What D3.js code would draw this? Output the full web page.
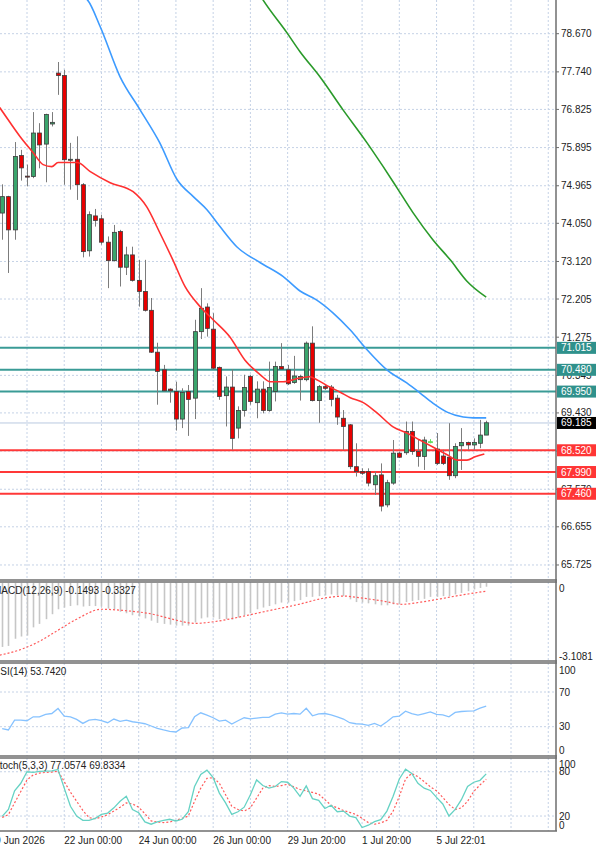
<!DOCTYPE html>
<html>
<head>
<meta charset="utf-8">
<script src="https://cdn.jsdelivr.net/npm/d3@7"></script>
<style>
body { margin: 0; background: #fff; }
svg { display: block; font-family: "Liberation Sans", Arial, sans-serif; font-size: 10px; }
</style>
</head>
<body>
<div id="chart"></div>
<script>
// 4H candles (open / high / low / close)
var opens  = [74.30,74.70,73.89,75.70,75.20,75.19,76.25,75.98,76.47,77.71,77.65,75.60,75.61,74.99,73.38,74.23,74.16,73.59,73.14,73.85,
              72.98,73.28,72.66,72.39,71.93,70.91,70.48,70.01,69.95,69.28,69.95,69.79,71.41,72.01,71.47,70.54,69.85,70.06,69.06,69.49,
              70.32,69.68,70.01,69.49,69.95,70.56,70.48,70.17,70.24,70.24,71.13,69.73,70.07,70.06,69.79,69.30,69.14,68.12,68.00,68.00,
              67.68,67.92,67.19,67.72,68.45,68.46,68.98,68.49,68.37,68.73,68.55,68.38,68.35,67.90,68.63,68.71,68.65,68.69,68.89];
var highs  = [75.00,74.72,76.03,75.84,75.48,76.76,76.49,76.72,76.76,77.98,77.79,76.01,76.17,75.03,74.34,74.40,74.26,73.73,74.01,73.89,
              73.48,73.48,73.16,73.16,72.23,71.14,70.60,70.03,70.19,70.03,70.11,71.70,72.47,72.10,71.86,70.56,70.32,70.50,69.59,70.36,
              70.36,70.20,70.20,70.68,70.68,71.13,70.60,70.82,70.36,71.17,71.54,70.11,70.11,70.11,69.87,69.50,69.16,68.69,68.08,68.08,
              68.00,68.20,67.80,68.77,68.49,69.22,69.22,68.77,68.85,68.79,68.94,68.53,69.18,68.69,69.06,68.73,68.81,69.26,69.24];
var lows   = [73.65,72.84,73.65,75.09,74.95,75.15,75.39,75.05,76.41,77.18,74.99,74.87,74.62,73.22,73.24,73.97,73.53,72.47,73.12,72.51,
              72.79,72.63,72.02,71.90,70.89,69.63,69.95,69.68,69.00,69.06,68.87,69.28,71.23,71.29,70.48,69.75,69.10,68.53,68.81,69.34,
              69.63,69.30,69.42,69.46,69.71,70.48,70.11,70.14,69.73,70.20,69.71,69.19,69.99,69.59,69.14,68.53,68.06,67.88,67.92,67.64,
              67.43,67.03,67.13,67.68,68.33,68.41,68.41,68.12,68.04,68.69,68.16,68.16,67.80,67.84,68.04,68.53,68.53,68.57,68.89];
var closes = [74.70,73.89,75.68,75.40,75.19,76.25,75.96,76.70,76.51,77.65,75.60,75.61,74.99,73.36,74.26,74.12,73.59,73.14,73.83,72.98,
              73.28,72.66,72.39,71.93,70.91,70.44,69.97,69.97,69.28,69.93,69.76,71.41,71.98,71.49,70.52,69.83,70.06,68.81,69.49,70.05,
              69.71,70.01,69.49,70.05,70.56,70.50,70.14,70.33,70.32,71.13,69.73,70.07,70.03,69.76,69.33,69.10,68.12,68.00,67.96,67.72,
              67.90,67.16,67.73,68.45,68.35,68.98,68.49,68.37,68.77,68.73,68.20,68.20,67.90,68.61,68.71,68.65,68.71,68.89,69.19];

// moving averages, [bar, price] readings
var maRed = [[-0.4,76.87],[1.3,76.50],[2.9,76.16],[5.0,75.77],[6.6,75.48],[8.0,75.43],[9.0,75.53],[10.5,75.53],[12.1,75.53],
             [14.2,75.31],[17.4,75.04],[21.1,74.82],[23.3,74.45],[25.4,73.82],[27.5,73.16],[29.5,72.50],[31.9,72.02],[34.0,71.70],
             [36.7,71.28],[39.1,70.72],[41.6,70.36],[43.2,70.19],[45.3,70.19],[48.0,70.28],[49.6,70.31],[50.7,70.24],[52.8,70.06],
             [54.4,69.94],[56.1,69.80],[58.2,69.68],[60.4,69.43],[63.0,69.09],[65.2,68.94],[67.3,68.77],[69.4,68.60],[71.7,68.41],
             [73.3,68.28],[74.9,68.28],[76.2,68.36],[77.7,68.43]];
var maBlue = [[13.3,79.55],[13.7,79.50],[15.8,78.84],[19.0,77.62],[22.2,76.82],[25.4,76.01],[28.2,75.11],[30.8,74.70],[33.0,74.38],
              [35.1,73.97],[37.8,73.48],[41.6,73.09],[45.3,72.75],[48.0,72.40],[50.7,72.18],[53.3,71.87],[56.1,71.45],[58.8,70.97],
              [62.0,70.48],[65.2,70.16],[67.3,69.92],[69.4,69.67],[71.7,69.45],[74.3,69.33],[75.9,69.31],[78.0,69.31]];
var maGreen = [[41.5,79.62],[42.0,79.50],[45.9,78.69],[48.0,78.23],[51.2,77.62],[54.9,76.82],[58.8,76.01],[61.4,75.43],
               [63.6,74.92],[66.2,74.31],[69.4,73.65],[72.2,73.16],[74.9,72.64],[78.0,72.25]];

// price axis
var priceTicks = ["78.670","77.740","76.825","75.895","74.965","74.050","73.120","72.205","71.275","70.345","69.430","68.500","67.570","66.655","65.725"];
var levelsTeal = [71.015, 70.480, 69.950];
var levelsRed = [68.520, 67.990, 67.460];
var lastPrice = 69.185;

// MACD(12,26,9)
var macdHist = [-2.58,-2.54,-2.25,-2.16,-2.12,-1.79,-1.65,-1.46,-1.26,-1.06,-0.99,-0.93,-0.90,-0.95,-0.93,-0.93,-0.95,-1.03,-1.06,-1.16,
                -1.22,-1.30,-1.35,-1.43,-1.52,-1.61,-1.65,-1.68,-1.72,-1.72,-1.72,-1.59,-1.43,-1.39,-1.39,-1.46,-1.46,-1.48,-1.39,-1.30,
                -1.22,-1.06,-0.99,-0.93,-0.86,-0.79,-0.79,-0.73,-0.69,-0.56,-0.56,-0.53,-0.50,-0.46,-0.50,-0.53,-0.66,-0.77,-0.79,-0.82,
                -0.86,-0.90,-0.90,-0.86,-0.86,-0.77,-0.73,-0.69,-0.64,-0.56,-0.56,-0.53,-0.53,-0.46,-0.40,-0.33,-0.26,-0.20,-0.15];
var macdSignal = [[-0.4,-2.91],[2.7,-2.71],[5.8,-2.38],[8.9,-1.92],[12.0,-1.46],[16.0,-1.06],[20.0,-1.12],[24.3,-1.26],[27.4,-1.46],
                  [31.1,-1.63],[34.2,-1.56],[37.9,-1.39],[42.9,-1.12],[47.8,-0.86],[52.1,-0.60],[55.2,-0.53],[57.7,-0.60],
                  [61.4,-0.73],[64.5,-0.86],[67.5,-0.77],[70.6,-0.64],[73.7,-0.50],[78.0,-0.33]];

// RSI(14)
var rsiValues = [27.7,26.2,37.6,37.6,36.9,41.4,41.4,44.1,45.2,51.0,42.2,41.4,38.4,33.8,37.6,38.4,36.9,34.6,38.8,36.1,
                 37.6,35.7,34.6,33.4,30.8,28.1,26.2,24.7,23.9,28.5,28.9,41.4,46.0,43.3,40.3,36.5,37.6,33.0,36.9,40.3,
                 39.1,39.9,40.7,40.7,44.5,46.0,44.5,45.2,44.5,51.3,42.6,44.9,45.2,43.7,41.4,38.8,34.6,33.4,33.0,31.5,
                 33.8,30.8,35.7,41.4,42.2,47.9,45.2,43.3,45.2,47.1,44.1,43.7,41.4,46.4,47.5,47.9,48.3,51.5,53.7];

// Stochastic(5,3,3)
var stochMain = [19.6,28.9,54.2,64.4,80.0,79.1,80.4,80.9,81.3,83.1,57.8,33.3,20.0,14.2,14.2,16.9,22.2,24.0,31.1,40.0,
                 46.7,28.9,24.4,12.0,8.9,12.0,14.2,15.6,13.3,15.6,25.8,60.0,76.4,82.2,72.0,51.1,37.8,22.2,25.8,32.0,
                 48.9,68.9,61.3,57.8,60.0,66.7,65.8,57.8,46.7,60.9,43.6,41.3,30.2,34.7,25.8,26.7,20.0,17.8,4.4,7.6,
                 12.4,15.1,26.7,46.7,70.2,83.6,77.8,64.4,57.8,54.7,45.3,36.4,20.0,28.9,42.2,60.0,65.8,68.4,77.1];
var stochSignal = [18.2,21.8,37.8,53.3,68.9,75.6,78.2,79.1,79.6,80.9,66.7,52.4,40.0,27.6,17.8,16.4,18.7,21.8,26.7,32.0,
                   37.8,36.4,32.0,23.1,13.3,12.0,11.1,12.0,14.2,16.9,20.0,40.0,57.8,71.1,72.0,64.4,48.9,33.3,28.9,26.7,
                   31.1,44.4,57.8,61.3,60.0,61.3,63.1,59.6,56.0,54.2,52.0,49.8,42.2,34.7,31.1,27.6,24.9,22.2,16.9,11.1,
                   8.9,10.7,14.2,26.7,46.7,70.2,77.8,73.3,66.7,59.6,54.2,45.3,35.6,28.9,31.1,40.0,53.3,62.2,69.8];

// time axis
var dateLabels = ["19 Jun 2026","22 Jun 00:00","24 Jun 00:00","26 Jun 00:00","29 Jun 20:00","1 Jul 20:00","5 Jul 22:01"];
var dateBars = [-2, 10, 22, 34, 46, 58, 70];

// layout
var width = 600, height = 849;
var axisX = 556;
var panes = {
	main:  {top: 0,   bottom: 580},
	macd:  {top: 582, bottom: 661},
	rsi:   {top: 663, bottom: 756},
	stoch: {top: 758, bottom: 831}
};
var gridColor = "#c5d2e6";
var frameColor = "#6e6e6e";

var svg = d3.select("#chart").append("svg")
	.attr("width", width)
	.attr("height", height);

svg.append("rect").attr("width", width).attr("height", height).attr("fill", "#fff");

var x = d3.scaleLinear().domain([0, 78]).range([2.18, 486.2]);
var yMain = d3.scaleLinear().domain([65.359, 79.491]).range([580, 0]);
var yMacd = d3.scaleLinear().domain([-3.1081, 0]).range([660, 583]);
var yRsi = d3.scaleLinear().domain([0, 100]).range([752.7, 666]);
var yStoch = d3.scaleLinear().domain([0, 100]).range([830.8, 757]);

// clip for each pane
Object.keys(panes).forEach(function(k) {
	svg.append("clipPath").attr("id", "clip-" + k)
		.append("rect")
		.attr("x", 0).attr("y", panes[k].top)
		.attr("width", axisX).attr("height", panes[k].bottom - panes[k].top);
});

// vertical grid every 6 bars
var gridBars = d3.range(4, 89, 6);
Object.keys(panes).forEach(function(k) {
	svg.append("g").selectAll("line")
		.data(gridBars)
		.enter().append("line")
		.attr("x1", function(d) { return x(d); })
		.attr("x2", function(d) { return x(d); })
		.attr("y1", panes[k].top)
		.attr("y2", panes[k].bottom)
		.attr("stroke", gridColor)
		.attr("stroke-dasharray", "2,2");
});

// horizontal grid on the price pane
svg.append("g").selectAll("line")
	.data(priceTicks)
	.enter().append("line")
	.attr("x1", 0).attr("x2", axisX)
	.attr("y1", function(d) { return yMain(+d); })
	.attr("y2", function(d) { return yMain(+d); })
	.attr("stroke", gridColor)
	.attr("stroke-dasharray", "2,2");

// indicator guide levels
[[yRsi, 70], [yRsi, 30], [yStoch, 80], [yStoch, 20]].forEach(function(d) {
	svg.append("line")
		.attr("x1", 0).attr("x2", axisX)
		.attr("y1", d[0](d[1])).attr("y2", d[0](d[1]))
		.attr("stroke", gridColor)
		.attr("stroke-dasharray", "2,2");
});

var gMain = svg.append("g").attr("clip-path", "url(#clip-main)");

// last price line
gMain.append("line")
	.attr("x1", 0).attr("x2", axisX)
	.attr("y1", yMain(lastPrice)).attr("y2", yMain(lastPrice))
	.attr("stroke", "#b9c9e0");

// support / resistance levels
gMain.selectAll(".lvl-teal")
	.data(levelsTeal)
	.enter().append("line")
	.attr("class", "lvl-teal")
	.attr("x1", 0).attr("x2", axisX)
	.attr("y1", function(d) { return yMain(d); })
	.attr("y2", function(d) { return yMain(d); })
	.attr("stroke", "#3a9b96")
	.attr("stroke-width", 2);

gMain.selectAll(".lvl-red")
	.data(levelsRed)
	.enter().append("line")
	.attr("class", "lvl-red")
	.attr("x1", 0).attr("x2", axisX)
	.attr("y1", function(d) { return yMain(d); })
	.attr("y2", function(d) { return yMain(d); })
	.attr("stroke", "#ff3838")
	.attr("stroke-width", 2);

// candles
var bars = d3.range(opens.length);

gMain.selectAll(".wick")
	.data(bars)
	.enter().append("line")
	.attr("class", "wick")
	.attr("x1", function(i) { return Math.round(x(i)) + 0.5; })
	.attr("x2", function(i) { return Math.round(x(i)) + 0.5; })
	.attr("y1", function(i) { return yMain(highs[i]); })
	.attr("y2", function(i) { return yMain(lows[i]); })
	.attr("stroke", function(i) { return opens[i] == closes[i] ? "#5fe05f" : "#7c7c7c"; })
	.attr("stroke-width", 1);

gMain.selectAll(".body")
	.data(bars)
	.enter().append("rect")
	.attr("class", "body")
	.attr("x", function(i) { return Math.round(x(i)) - 1.5; })
	.attr("y", function(i) { return yMain(Math.max(opens[i], closes[i])); })
	.attr("width", 4)
	.attr("height", function(i) { return Math.max(1, Math.abs(yMain(opens[i]) - yMain(closes[i]))); })
	.attr("fill", function(i) {
		if (opens[i] == closes[i]) return "#5fe05f";
		return closes[i] > opens[i] ? "#3aa56c" : "#e80000";
	})
	.attr("stroke", function(i) { return opens[i] == closes[i] ? "#5fe05f" : "#3c3c3c"; })
	.attr("stroke-width", 0.8);

// moving averages
var maLine = d3.line()
	.x(function(d) { return x(d[0]); })
	.y(function(d) { return yMain(d[1]); })
	.curve(d3.curveMonotoneX);

[[maGreen, "#2a9a2a"], [maBlue, "#3d9bff"], [maRed, "#ff3030"]].forEach(function(m) {
	gMain.append("path")
		.datum(m[0])
		.attr("fill", "none")
		.attr("stroke", m[1])
		.attr("stroke-width", 1.6)
		.attr("d", maLine);
});

// MACD histogram + signal
var gMacd = svg.append("g").attr("clip-path", "url(#clip-macd)");
gMacd.selectAll("rect")
	.data(bars)
	.enter().append("rect")
	.attr("x", function(i) { return Math.round(x(i)) - 0.3; })
	.attr("y", yMacd(0))
	.attr("width", 1.6)
	.attr("height", function(i) { return yMacd(macdHist[i]) - yMacd(0); })
	.attr("fill", "#c6c6c6");

gMacd.append("path")
	.datum(macdSignal)
	.attr("fill", "none")
	.attr("stroke", "#ff5a5a")
	.attr("stroke-width", 1.2)
	.attr("stroke-dasharray", "2,2")
	.attr("d", d3.line()
		.x(function(d) { return x(d[0]); })
		.y(function(d) { return yMacd(d[1]); })
		.curve(d3.curveMonotoneX));

// RSI
svg.append("g").attr("clip-path", "url(#clip-rsi)")
	.append("path")
	.datum(rsiValues)
	.attr("fill", "none")
	.attr("stroke", "#86c2ff")
	.attr("stroke-width", 1.3)
	.attr("d", d3.line()
		.x(function(d, i) { return x(i); })
		.y(function(d) { return yRsi(d); }));

// Stochastic
var gStoch = svg.append("g").attr("clip-path", "url(#clip-stoch)");
gStoch.append("path")
	.datum(stochSignal)
	.attr("fill", "none")
	.attr("stroke", "#ff5a5a")
	.attr("stroke-width", 1.2)
	.attr("stroke-dasharray", "2,2")
	.attr("d", d3.line()
		.x(function(d, i) { return x(i); })
		.y(function(d) { return yStoch(d); }));

gStoch.append("path")
	.datum(stochMain)
	.attr("fill", "none")
	.attr("stroke", "#66d2c4")
	.attr("stroke-width", 1.3)
	.attr("d", d3.line()
		.x(function(d, i) { return x(i); })
		.y(function(d) { return yStoch(d); }));

// pane frames
[panes.main.bottom, panes.macd.top, panes.macd.bottom, panes.rsi.top, panes.rsi.bottom, panes.stoch.top, panes.stoch.bottom]
	.forEach(function(yy) {
		svg.append("line")
			.attr("x1", 0).attr("x2", axisX + 1)
			.attr("y1", yy).attr("y2", yy)
			.attr("stroke", frameColor)
			.attr("stroke-width", 1.5);
	});

svg.append("line")
	.attr("x1", axisX).attr("x2", axisX)
	.attr("y1", 0).attr("y2", panes.stoch.bottom)
	.attr("stroke", frameColor)
	.attr("stroke-width", 1.5);

// price axis labels
var gAxis = svg.append("g");
gAxis.selectAll("line")
	.data(priceTicks)
	.enter().append("line")
	.attr("x1", axisX).attr("x2", axisX + 3)
	.attr("y1", function(d) { return yMain(+d); })
	.attr("y2", function(d) { return yMain(+d); })
	.attr("stroke", frameColor);

gAxis.selectAll("text")
	.data(priceTicks)
	.enter().append("text")
	.attr("x", axisX + 5)
	.attr("y", function(d) { return yMain(+d); })
	.attr("dy", "0.35em")
	.attr("fill", "#222")
	.text(function(d) { return d; });

// level tags on the axis
function tag(value, fill) {
	var yy = yMain(value);
	svg.append("rect")
		.attr("x", axisX + 1).attr("y", yy - 6)
		.attr("width", 39).attr("height", 12)
		.attr("fill", fill);
	svg.append("text")
		.attr("x", axisX + 5).attr("y", yy)
		.attr("dy", "0.35em")
		.attr("fill", "#fff")
		.text(value.toFixed(3));
}
levelsTeal.forEach(function(v) { tag(v, "#2f918c"); });
levelsRed.forEach(function(v) { tag(v, "#ff3535"); });
tag(lastPrice, "#000");

// indicator axis labels
function sideLabel(txt, yy) {
	svg.append("text")
		.attr("x", axisX + 3).attr("y", yy)
		.attr("dy", "0.35em")
		.attr("fill", "#222")
		.text(txt);
}
sideLabel("0", 588);
sideLabel("-3.1081", 656);
[100, 70, 30, 0].forEach(function(v) {
	sideLabel(v, Math.max(panes.rsi.top + 7, Math.min(panes.rsi.bottom - 6, yRsi(v))));
});
[100, 80, 20, 0].forEach(function(v) {
	sideLabel(v, Math.max(panes.stoch.top + 6, Math.min(panes.stoch.bottom - 6, yStoch(v))));
});

// indicator titles (left edge is cut off in the original)
[["MACD(12,26,9) -0.1493 -0.3327", 590], ["RSI(14) 53.7420", 671], ["Stoch(5,3,3) 77.0574 69.8334", 765]]
	.forEach(function(t) {
		svg.append("text")
			.attr("x", -7).attr("y", t[1])
			.attr("dy", "0.35em")
			.attr("fill", "#222")
			.text(t[0]);
	});

// time axis
svg.append("g").selectAll("text")
	.data(dateLabels)
	.enter().append("text")
	.attr("x", function(d, i) { return x(dateBars[i]); })
	.attr("y", 840)
	.attr("dy", "0.35em")
	.attr("fill", "#222")
	.text(function(d) { return d; });
</script>
</body>
</html>
